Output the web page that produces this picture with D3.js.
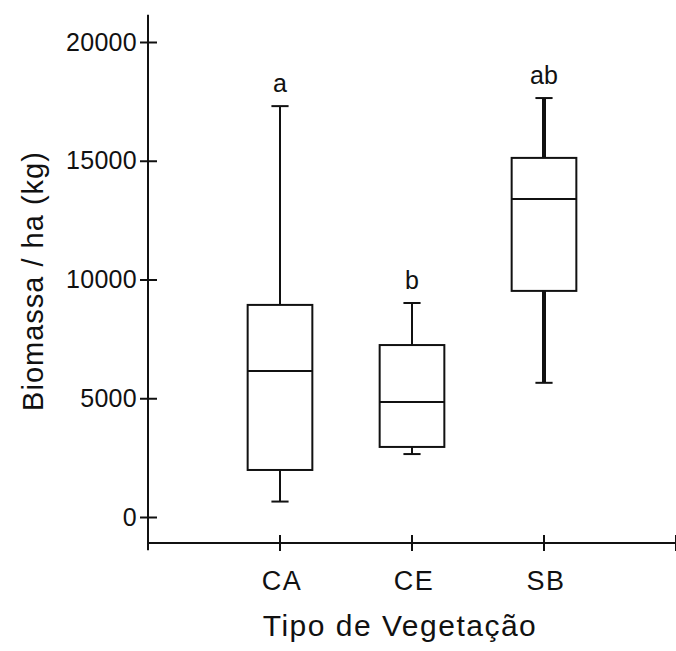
<!DOCTYPE html>
<html>
<head>
<meta charset="utf-8">
<script src="https://cdn.jsdelivr.net/npm/d3@7"></script>
<style>
  body { margin: 0; background: #fff; }
  text { font-family: "Liberation Sans", Arial, sans-serif; fill: #111; }
</style>
</head>
<body>
<script>
// categories and box stats
const categories = ["CA", "CE", "SB"];
const whiskerLow = [650, 2650, 5650];
const boxLow = [1980, 2950, 9520];
const medians = [6150, 4840, 13390];
const boxHigh = [8930, 7240, 15120];
const whiskerHigh = [17300, 9010, 17640];
const letters = ["a", "b", "ab"];
const yTicks = [0, 5000, 10000, 15000, 20000];

const width = 676, height = 651;

var svg = d3.select("body").append("svg")
  .attr("width", width)
  .attr("height", height);

// y scale: 0 -> 517px, 20000 -> 42px
var y = d3.scaleLinear().domain([0, 20000]).range([517, 42]);
// x scale: slots 0..4, categories sit at 1,2,3
var x = d3.scaleLinear().domain([0, 4]).range([148, 676]);

const boxW = 0.49;   // in slot units
const capW = 0.13;

// y axis line (extends a bit past the ticks)
svg.append("line")
  .attr("x1", x(0)).attr("x2", x(0))
  .attr("y1", y(21150)).attr("y2", y(-1400))
  .attr("stroke", "#111").attr("stroke-width", 2);

// x axis line
svg.append("line")
  .attr("x1", x(0) - 1).attr("x2", x(4))
  .attr("y1", 543).attr("y2", 543)
  .attr("stroke", "#111").attr("stroke-width", 2);

// y ticks + labels
var yAxis = d3.axisLeft(y).tickValues(yTicks).tickFormat(d3.format("d")).tickSize(8);
var gy = svg.append("g")
  .attr("transform", "translate(" + x(0) + ",0)")
  .call(yAxis);
gy.select(".domain").remove();
gy.selectAll(".tick line").attr("x1", 9).attr("x2", -8).attr("stroke", "#111").attr("stroke-width", 2);
gy.selectAll(".tick text")
  .attr("x", -11)
  .style("font-size", "25px")
  .style("letter-spacing", "0.3px")
  .attr("fill", "#111");

// x ticks (including the right end one)
svg.selectAll(".xtick")
  .data([1, 2, 3, 4])
  .enter().append("line")
  .attr("class", "xtick")
  .attr("x1", function(d) { return x(d); })
  .attr("x2", function(d) { return x(d); })
  .attr("y1", 535).attr("y2", 551)
  .attr("stroke", "#111").attr("stroke-width", 2);

svg.selectAll(".xlab")
  .data(categories)
  .enter().append("text")
  .attr("class", "xlab")
  .attr("x", function(d, i) { return x(i + 1) + 2; })
  .attr("y", 590)
  .attr("text-anchor", "middle")
  .style("font-size", "27px")
  .style("letter-spacing", "1.5px")
  .text(function(d) { return d; });

// boxes
var g = svg.selectAll(".box")
  .data(categories)
  .enter().append("g")
  .attr("class", "box");

// whiskers
g.append("line")
  .attr("x1", function(d, i) { return x(i + 1); })
  .attr("x2", function(d, i) { return x(i + 1); })
  .attr("y1", function(d, i) { return y(whiskerHigh[i]); })
  .attr("y2", function(d, i) { return y(boxHigh[i]); })
  .attr("stroke", "#111")
  .attr("stroke-width", function(d, i) { return i == 2 ? 4 : 2; });

g.append("line")
  .attr("x1", function(d, i) { return x(i + 1); })
  .attr("x2", function(d, i) { return x(i + 1); })
  .attr("y1", function(d, i) { return y(boxLow[i]); })
  .attr("y2", function(d, i) { return y(whiskerLow[i]); })
  .attr("stroke", "#111")
  .attr("stroke-width", function(d, i) { return i == 2 ? 4 : 2; });

// caps
[whiskerHigh, whiskerLow].forEach(function(arr) {
  g.append("line")
    .attr("x1", function(d, i) { return x(i + 1 - capW / 2); })
    .attr("x2", function(d, i) { return x(i + 1 + capW / 2); })
    .attr("y1", function(d, i) { return y(arr[i]); })
    .attr("y2", function(d, i) { return y(arr[i]); })
    .attr("stroke", "#111").attr("stroke-width", 2);
});

g.append("rect")
  .attr("x", function(d, i) { return x(i + 1 - boxW / 2); })
  .attr("width", x(boxW) - x(0))
  .attr("y", function(d, i) { return y(boxHigh[i]); })
  .attr("height", function(d, i) { return y(boxLow[i]) - y(boxHigh[i]); })
  .attr("fill", "#fff")
  .attr("stroke", "#111").attr("stroke-width", 2);

g.append("line")
  .attr("x1", function(d, i) { return x(i + 1 - boxW / 2); })
  .attr("x2", function(d, i) { return x(i + 1 + boxW / 2); })
  .attr("y1", function(d, i) { return y(medians[i]); })
  .attr("y2", function(d, i) { return y(medians[i]); })
  .attr("stroke", "#111").attr("stroke-width", 2);

// significance letters
g.append("text")
  .attr("x", function(d, i) { return x(i + 1); })
  .attr("y", function(d, i) { return y(whiskerHigh[i]) - 14; })
  .attr("text-anchor", "middle")
  .style("font-size", "25px")
  .text(function(d, i) { return letters[i]; });

// axis titles
svg.append("text")
  .attr("transform", "translate(43,281) rotate(-90)")
  .attr("text-anchor", "middle")
  .style("font-size", "29px")
  .style("letter-spacing", "1px")
  .text("Biomassa / ha (kg)");

svg.append("text")
  .attr("x", 400)
  .attr("y", 636)
  .attr("text-anchor", "middle")
  .style("font-size", "30px")
  .style("letter-spacing", "1.5px")
  .text("Tipo de Vegetação");
</script>
</body>
</html>
